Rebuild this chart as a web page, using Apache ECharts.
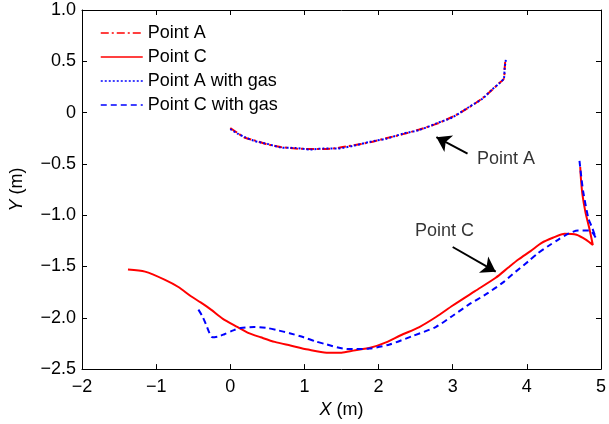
<!DOCTYPE html>
<html>
<head>
<meta charset="utf-8">
<script src="https://cdn.jsdelivr.net/npm/echarts@6/dist/echarts.min.js"></script>
<style>
  html, body { margin: 0; padding: 0; background: #fff; }
  #chart { width: 609px; height: 424px; }
</style>
</head>
<body>
<div id="chart"></div>
<script>
// trajectories, X (m) / Y (m)
var pointAX = [0.00, 0.10, 0.20, 0.32, 0.50, 0.68, 0.88, 1.08, 1.25, 1.44, 1.65, 1.88, 2.10, 2.33, 2.55, 2.78, 3.00, 3.22, 3.40, 3.53, 3.63, 3.69, 3.70, 3.71]
var pointAY = [-0.15, -0.20, -0.245, -0.27, -0.31, -0.335, -0.35, -0.355, -0.355, -0.345, -0.32, -0.29, -0.25, -0.21, -0.165, -0.11, -0.04, 0.05, 0.14, 0.22, 0.29, 0.33, 0.42, 0.52]

var pointAGasX = [0.00, 0.10, 0.20, 0.32, 0.50, 0.68, 0.88, 1.08, 1.25, 1.44, 1.65, 1.88, 2.10, 2.33, 2.55, 2.78, 3.00, 3.22, 3.40, 3.53, 3.63, 3.69, 3.70, 3.72]
var pointAGasY = [-0.16, -0.205, -0.24, -0.275, -0.305, -0.34, -0.345, -0.36, -0.35, -0.35, -0.325, -0.285, -0.255, -0.205, -0.17, -0.105, -0.045, 0.055, 0.135, 0.225, 0.285, 0.335, 0.43, 0.53]

var pointCX = [-1.38, -1.15, -0.88, -0.70, -0.53, -0.40, -0.26, -0.10, 0.10, 0.25, 0.41, 0.60, 0.81, 1.05, 1.30, 1.50, 1.66, 1.90, 2.10, 2.30, 2.55, 2.78, 3.00, 3.30, 3.58, 3.75, 3.89, 4.05, 4.20, 4.35, 4.51, 4.67, 4.80, 4.89, 4.84, 4.79, 4.75, 4.73, 4.72]
var pointCY = [-1.53, -1.55, -1.63, -1.70, -1.79, -1.85, -1.92, -2.01, -2.09, -2.15, -2.19, -2.235, -2.27, -2.31, -2.34, -2.34, -2.32, -2.29, -2.24, -2.17, -2.09, -1.99, -1.88, -1.74, -1.61, -1.51, -1.43, -1.35, -1.27, -1.22, -1.18, -1.19, -1.24, -1.29, -1.12, -0.97, -0.80, -0.65, -0.53]

var pointCGasX = [-0.43, -0.38, -0.33, -0.28, -0.24, -0.15, -0.08, 0.05, 0.14, 0.32, 0.50, 0.63, 0.80, 0.99, 1.15, 1.30, 1.52, 1.70, 1.88, 2.15, 2.45, 2.77, 3.00, 3.22, 3.45, 3.67, 3.85, 4.02, 4.15, 4.29, 4.42, 4.56, 4.69, 4.85, 4.93, 4.88, 4.83, 4.76, 4.73, 4.71]
var pointCGasY = [-1.92, -1.98, -2.06, -2.15, -2.19, -2.18, -2.16, -2.12, -2.10, -2.09, -2.10, -2.12, -2.15, -2.19, -2.23, -2.26, -2.30, -2.305, -2.30, -2.26, -2.18, -2.09, -1.98, -1.87, -1.77, -1.66, -1.55, -1.45, -1.37, -1.30, -1.24, -1.18, -1.15, -1.15, -1.22, -1.12, -1.03, -0.77, -0.60, -0.47]

var seriesNames = ['Point A', 'Point C', 'Point A with gas', 'Point C with gas']
var xTicks = [-2, 5, 1]
var yTicks = [-2.5, 1.0, 0.5]

function zip(xs, ys) {
  return xs.map(function (x, i) { return [x, ys[i]] })
}

var font = '"Liberation Sans", Arial, Helvetica, sans-serif'
var black = '#000'
var fs = 18

function minus(s) {
  return String(s).replace('-', '\u2212')
}

function axisCommon(showLabels) {
  return {
    axisLine: { show: true, onZero: false, lineStyle: { color: black, width: 1 } },
    axisTick: { show: true, inside: true, length: 5, lineStyle: { color: black } },
    splitLine: { show: false },
    axisLabel: { show: showLabels, color: black, fontSize: fs, fontFamily: font }
  }
}

var chart = echarts.init(document.getElementById('chart'), null, { renderer: 'canvas' })

var nameStyle = {
  color: black, fontSize: fs, fontFamily: font,
  rich: { i: { fontStyle: 'italic', fontSize: fs, fontFamily: font, color: black } }
}

var xBottom = Object.assign(axisCommon(true), {
  type: 'value', position: 'bottom', min: xTicks[0], max: xTicks[1], interval: xTicks[2],
  name: '{i|X} (m)', nameLocation: 'middle', nameGap: 31, nameTextStyle: nameStyle
})
xBottom.axisLabel.margin = 9
xBottom.axisLabel.formatter = function (v) { return minus(v) }

var xTop = Object.assign(axisCommon(false), {
  type: 'value', position: 'top', min: xTicks[0], max: xTicks[1], interval: xTicks[2]
})

var yLeft = Object.assign(axisCommon(true), {
  type: 'value', position: 'left', min: yTicks[0], max: yTicks[1], interval: yTicks[2],
  name: '{i|Y} (m)', nameLocation: 'middle', nameGap: 56, nameTextStyle: nameStyle
})
yLeft.axisLabel.margin = 6
yLeft.axisLabel.formatter = function (v) { return v === 0 ? '0' : minus(v.toFixed(1)) }

var yRight = Object.assign(axisCommon(false), {
  type: 'value', position: 'right', min: yTicks[0], max: yTicks[1], interval: yTicks[2]
})

function lineSeries(name, data, color, type) {
  return {
    name: name,
    type: 'line',
    data: data,
    symbol: 'none',
    smooth: 0.25,
    animation: false,
    lineStyle: { color: color, width: 2, type: type },
    itemStyle: { color: color },
    z: 3
  }
}

chart.setOption({
  backgroundColor: '#fff',
  animation: false,
  textStyle: { fontFamily: font },
  grid: { left: 80, right: 6, top: 10, bottom: 54, containLabel: false },
  legend: {
    data: seriesNames,
    orient: 'vertical',
    left: 100,
    top: 24,
    padding: 0,
    itemGap: 6,
    itemWidth: 42,
    itemHeight: 14,
    itemStyle: { opacity: 0 },
    lineStyle: { width: 1.5 },
    textStyle: { color: black, fontSize: fs, fontFamily: font }
  },
  xAxis: [xBottom, xTop],
  yAxis: [yLeft, yRight],
  series: [
    lineSeries('Point A', zip(pointAX, pointAY), '#ff0000', [8, 3, 2, 3]),
    lineSeries('Point C', zip(pointCX, pointCY), '#ff0000', 'solid'),
    lineSeries('Point A with gas', zip(pointAGasX, pointAGasY), '#0000ff', [2, 2]),
    lineSeries('Point C with gas', zip(pointCGasX, pointCGasY), '#0000ff', [6, 4]),
    {
      type: 'lines',
      coordinateSystem: 'cartesian2d',
      symbol: ['none', 'arrow'],
      symbolSize: [0, 14],
      lineStyle: { color: black, width: 2, opacity: 1 },
      data: [
        { coords: [[3.20, -0.40], [2.78, -0.24]] },
        { coords: [[3.00, -1.31], [3.58, -1.55]] }
      ],
      z: 5
    },
    {
      type: 'scatter',
      symbolSize: 0,
      label: { show: true, position: 'inside', formatter: '{b}', color: black, fontSize: fs, fontFamily: font },
      data: [
        { name: 'Point A', value: [3.72, -0.45] },
        { name: 'Point C', value: [2.89, -1.15] }
      ],
      z: 6
    }
  ]
})
</script>
</body>
</html>
